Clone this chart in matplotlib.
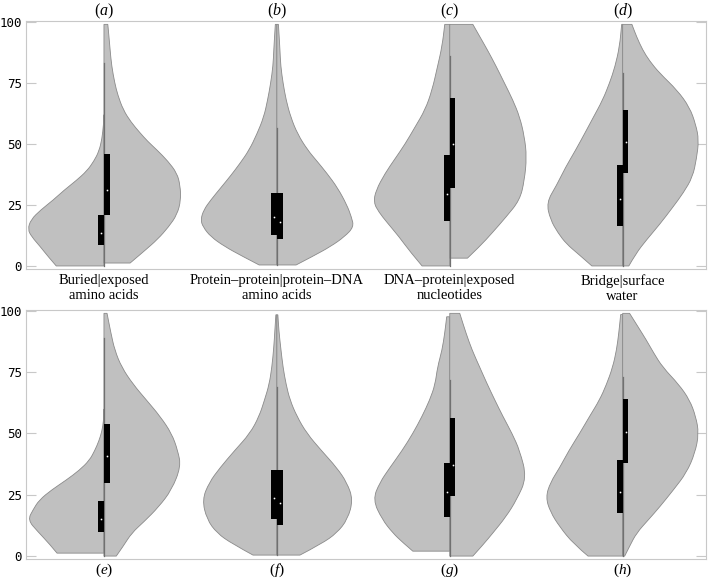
import matplotlib
matplotlib.use("Agg")
import matplotlib.pyplot as plt
from matplotlib.path import Path
from matplotlib.patches import PathPatch
import numpy as np

plt.rcParams['mathtext.fontset'] = 'custom'
plt.rcParams['mathtext.rm'] = 'Liberation Serif'
plt.rcParams['mathtext.it'] = 'Liberation Serif:italic'

categories = ["Buried|exposed\namino acids",
              "Protein\u2013protein|protein\u2013DNA\namino acids",
              "DNA\u2013protein|exposed\nnucleotides",
              "Bridge|surface\nwater"]
top_letters = ["a", "b", "c", "d"]
bottom_letters = ["e", "f", "g", "h"]

# half-violin profiles: y levels and relative density (max = 1)
a_left_y = [0, 4, 8, 12, 15, 19, 23, 27, 31, 35, 39, 43, 47, 52, 58, 62]
a_left_d = [0.62, 0.73, 0.83, 0.94, 0.99, 0.95, 0.82, 0.66, 0.52, 0.36, 0.22, 0.13, 0.065, 0.026, 0.006, 0]
a_right_y = [1.2, 6, 11, 16, 21, 27, 33, 38, 43, 47.5, 51, 54.5, 59, 64, 70, 75, 82, 88.5, 94, 99]
a_right_d = [0.34, 0.52, 0.70, 0.84, 0.95, 1.0, 0.99, 0.95, 0.83, 0.69, 0.57, 0.47, 0.35, 0.25, 0.18, 0.14, 0.10, 0.08, 0.065, 0.05]

b_left_y = [0.4, 4, 8, 12, 16, 19, 23, 27, 32, 37, 42, 47.5, 54, 61, 68, 75, 82, 88.5, 94, 99]
b_left_d = [0.23, 0.45, 0.68, 0.86, 0.96, 0.99, 0.95, 0.86, 0.73, 0.60, 0.48, 0.36, 0.26, 0.17, 0.12, 0.08, 0.05, 0.04, 0.03, 0.02]
b_right_y = [0.4, 4, 8, 12, 16, 20, 25, 32, 38, 43, 47.5, 54, 61, 68, 75, 82, 88.5, 94, 99]
b_right_d = [0.25, 0.47, 0.70, 0.88, 1.0, 0.97, 0.91, 0.79, 0.65, 0.52, 0.40, 0.27, 0.18, 0.12, 0.08, 0.05, 0.04, 0.03, 0.02]

c_left_y = [0, 6, 12, 18, 22, 26, 31, 38, 44, 50, 57, 64, 72, 81.6, 90, 99]
c_left_d = [0.36, 0.52, 0.66, 0.82, 0.92, 0.99, 0.96, 0.84, 0.71, 0.58, 0.45, 0.32, 0.23, 0.16, 0.10, 0.065]
c_right_y = [3.2, 8, 13.5, 20, 27, 35, 44.7, 53, 61, 68, 75, 82, 88.5, 94, 99]
c_right_d = [0.23, 0.39, 0.55, 0.73, 0.91, 0.97, 1.0, 0.97, 0.91, 0.82, 0.71, 0.60, 0.49, 0.39, 0.30]

d_left_y = [0, 5, 9, 13.5, 19, 26, 33, 40.6, 47, 54.5, 61, 68, 75, 81.6, 90, 99]
d_left_d = [0.40, 0.58, 0.73, 0.84, 0.94, 0.99, 0.86, 0.74, 0.62, 0.49, 0.38, 0.26, 0.17, 0.10, 0.04, 0.013]
d_right_y = [0, 5, 10.7, 17, 24, 30, 36.5, 44, 51.6, 58, 65, 72, 79, 84, 88.5, 94, 99]
d_right_d = [0.08, 0.17, 0.31, 0.48, 0.65, 0.79, 0.91, 0.96, 0.99, 0.95, 0.87, 0.71, 0.48, 0.35, 0.26, 0.18, 0.12]

e_left_y = [1.2, 5, 10, 14.7, 19, 22.9, 27, 31, 35, 39, 43, 47, 51, 55, 60]
e_left_d = [0.61, 0.71, 0.86, 0.99, 0.92, 0.84, 0.68, 0.49, 0.32, 0.19, 0.12, 0.065, 0.026, 0.006, 0]
e_right_y = [0, 4, 9.4, 14, 20, 27, 36.5, 43, 50, 57, 63.7, 70, 77, 84, 91, 99]
e_right_d = [0.16, 0.25, 0.36, 0.52, 0.71, 0.88, 1.0, 0.96, 0.88, 0.73, 0.55, 0.38, 0.23, 0.14, 0.09, 0.04]

f_left_y = [0.4, 5, 9.4, 15, 23, 30, 36, 43, 50, 57, 63.7, 70, 77, 85, 92, 98.4]
f_left_d = [0.31, 0.58, 0.78, 0.91, 0.97, 0.88, 0.74, 0.55, 0.35, 0.23, 0.16, 0.10, 0.065, 0.04, 0.026, 0.013]
f_right_y = [0.4, 5, 9.4, 15, 23, 30, 36, 43, 50, 57, 63.7, 70, 77, 85, 92, 98.4]
f_right_d = [0.30, 0.58, 0.78, 0.92, 0.99, 0.91, 0.78, 0.58, 0.39, 0.26, 0.17, 0.12, 0.08, 0.05, 0.026, 0.013]

g_left_y = [2, 5.5, 9.4, 15, 23, 30, 36, 43, 50, 57, 63.7, 70, 77, 84, 91, 97.6]
g_left_d = [0.48, 0.61, 0.74, 0.88, 1.0, 0.91, 0.78, 0.62, 0.48, 0.36, 0.26, 0.19, 0.16, 0.10, 0.065, 0.04]
g_right_y = [0, 4.5, 9.4, 16, 23, 32, 43, 50, 57, 64, 70.6, 77, 84, 91, 99]
g_right_d = [0.30, 0.43, 0.56, 0.73, 0.87, 1.0, 0.91, 0.81, 0.69, 0.58, 0.48, 0.39, 0.29, 0.21, 0.13]

h_left_y = [0, 5, 12, 18, 24, 30, 36, 43, 50, 57, 63.7, 70, 77, 84, 91, 98.5]
h_left_d = [0.45, 0.64, 0.82, 0.94, 1.0, 0.94, 0.82, 0.70, 0.56, 0.43, 0.30, 0.21, 0.13, 0.08, 0.05, 0.026]
h_right_y = [0, 4, 9.4, 15, 20, 27, 34, 42, 50, 57, 63.7, 70, 77, 83, 88, 94, 99]
h_right_d = [0.026, 0.09, 0.18, 0.34, 0.48, 0.66, 0.83, 0.94, 0.99, 0.95, 0.87, 0.73, 0.52, 0.40, 0.31, 0.19, 0.09]

# box stats per half: (q1, q3, median)
top_box_left = [(8.6, 21, 13.5), (12.7, 30, 20), (18.5, 45.5, 29.5), (16.5, 41.4, 27.4)]
top_box_right = [(21, 46, 31), (11, 30, 18), (32, 69, 50), (38, 64, 51)]
top_whisker = [83, 56.5, 86, 79]
bot_box_left = [(9.8, 22.4, 15), (15, 35, 23.7), (16, 38, 26), (17.5, 39, 26)]
bot_box_right = [(29.8, 54, 40.8), (12.5, 35, 21.6), (24.5, 56.3, 37), (38, 64, 50.6)]
bot_whisker = [89, 69, 72, 73]

top_halves = [(a_left_y, a_left_d, a_right_y, a_right_d),
              (b_left_y, b_left_d, b_right_y, b_right_d),
              (c_left_y, c_left_d, c_right_y, c_right_d),
              (d_left_y, d_left_d, d_right_y, d_right_d)]
bot_halves = [(e_left_y, e_left_d, e_right_y, e_right_d),
              (f_left_y, f_left_d, f_right_y, f_right_d),
              (g_left_y, g_left_d, g_right_y, g_right_d),
              (h_left_y, h_left_d, h_right_y, h_right_d)]

HW = 0.445
BW = 0.033
fill_col = "#c0c0c0"
edge_col = "#8a8a8a"
positions = [1, 2, 3, 4]


def half_patch(pos, ys, xs):
    # outline: centre -> profile (smoothed with quadratic curves) -> centre
    verts = [(pos, ys[0]), (xs[0], ys[0])]
    codes = [Path.MOVETO, Path.LINETO]
    pts = list(zip(xs, ys))
    for i in range(1, len(pts) - 1):
        mid = ((pts[i][0] + pts[i + 1][0]) / 2, (pts[i][1] + pts[i + 1][1]) / 2)
        verts += [pts[i], mid]
        codes += [Path.CURVE3, Path.CURVE3]
    verts += [pts[-1], (pos, ys[-1]), (pos, ys[0])]
    codes += [Path.LINETO, Path.LINETO, Path.CLOSEPOLY]
    return PathPatch(Path(verts, codes), facecolor=fill_col, edgecolor=edge_col,
                     lw=0.6, zorder=2)


def draw_panel(ax, halves, box_l, box_r, whisk):
    for pos, (ly, ld, ry, rd), bl, br, wt in zip(positions, halves, box_l, box_r, whisk):
        ly = np.array(ly); ld = np.array(ld) * HW
        ry = np.array(ry); rd = np.array(rd) * HW
        ax.add_patch(half_patch(pos, ly, pos - ld))
        ax.add_patch(half_patch(pos, ry, pos + rd))
        ax.plot([pos, pos], [min(ly[0], ry[0]), wt], color="#707070", lw=0.9, zorder=3)
        ax.bar(pos - BW / 2, bl[1] - bl[0], width=BW, bottom=bl[0], color="black", zorder=4)
        ax.bar(pos + BW / 2, br[1] - br[0], width=BW, bottom=br[0], color="black", zorder=4)
        ax.plot([pos - BW / 2, pos + BW / 2], [bl[2], br[2]], ls="none", marker="s",
                ms=0.8, mfc="white", mec="white", mew=0.3, zorder=5)
    ax.set_xlim(0.549, 4.48)
    ax.set_ylim(-1.2, 100.4)
    ax.set_xticks([])
    ax.set_yticks([0, 25, 50, 75, 100])
    ax.tick_params(axis="y", direction="in", length=7, color="#c8c8c8", width=0.8,
                   right=True, pad=3, labelsize=9)
    for lab in ax.get_yticklabels():
        lab.set_family("DejaVu Sans Mono")
    for sp in ax.spines.values():
        sp.set_color("#c8c8c8")
        sp.set_linewidth(0.8)


fig = plt.figure(figsize=(7.08, 5.82), dpi=100)
ax1 = fig.add_axes([0.0367, 0.538, 0.960, 0.426])
ax2 = fig.add_axes([0.0367, 0.0395, 0.960, 0.428])
draw_panel(ax1, top_halves, top_box_left, top_box_right, top_whisker)
draw_panel(ax2, bot_halves, bot_box_left, bot_box_right, bot_whisker)

for pos, lab, let in zip(positions, categories, top_letters):
    ax1.text(pos, 1.0 + 10 / 248, "($\\it{%s}$)" % let, transform=ax1.get_xaxis_transform(),
             ha="center", va="center", fontsize=11.5, family="Liberation Serif")
    ax1.text(pos, -5 / 248, lab, transform=ax1.get_xaxis_transform(), ha="center", va="top",
             fontsize=10.5, family="Liberation Serif", linespacing=1.2)
for pos, let in zip(positions, bottom_letters):
    ax2.text(pos, -11 / 249, "($\\it{%s}$)" % let, transform=ax2.get_xaxis_transform(),
             ha="center", va="center", fontsize=11, family="Liberation Serif")

fig.savefig("out.png", dpi=100)
